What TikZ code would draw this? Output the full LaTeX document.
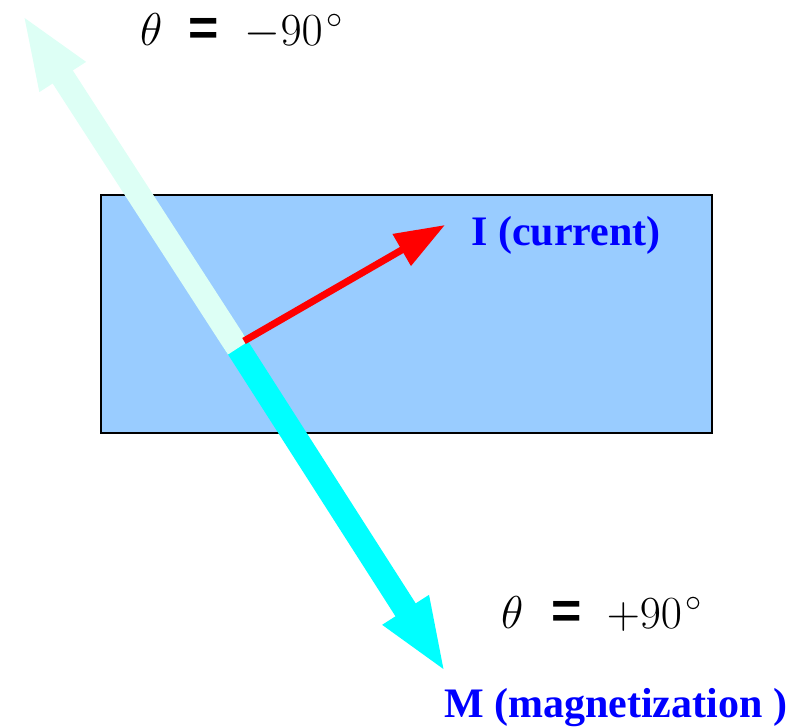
\RequirePackage{fix-cm}
\documentclass[tikz,border=0pt]{standalone}
\usepackage{fontspec}
\newfontfamily\lserif{Liberation Serif}
\newfontfamily\lsans{Liberation Sans}
\usetikzlibrary{arrows.meta}
\definecolor{plate}{RGB}{153,204,255}
\definecolor{paleM}{RGB}{221,255,245}
\definecolor{cyanM}{RGB}{0,255,255}
\definecolor{redI}{RGB}{255,0,0}
\definecolor{blueT}{RGB}{0,0,255}
\newcommand{\bigeq}{{\lsans\bfseries\fontsize{52}{60}\selectfont =}}
\tikzset{
  platebox/.style={fill=plate,draw=black,line width=1.5pt},
  bigarrow/.style={line width=24pt,-{Triangle[length=75pt,width=49pt]}},
  curarrow/.style={draw=redI,line width=7pt,-{Triangle[length=50pt,width=35pt]}},
  anglelabel/.style={anchor=base west,inner sep=0pt,font=\fontsize{46}{54}\selectfont},
  vlabel/.style={anchor=base west,inner sep=0pt,text=blueT,font=\lserif\bfseries\fontsize{42}{50}\selectfont},
}
\begin{document}
\begin{tikzpicture}[x=1pt,y=-1pt]
\useasboundingbox (0,0) rectangle (798,726);
\node[platebox,minimum width=611pt,minimum height=238pt,inner sep=0pt,anchor=north west] (plate) at (100,194) {};
\coordinate (base) at (238,348);
\coordinate (base2) at (233,340);
\coordinate (tipUp) at (22,14);
\coordinate (tipDown) at (446,673);
\coordinate (startI) at (244,341);
\coordinate (tipI) at (445,225);
\draw[bigarrow,draw=cyanM,color=cyanM] (base2) -- (tipDown);
\draw[bigarrow,draw=paleM,color=paleM] (base) -- (tipUp);
\draw[curarrow,color=redI] (startI) -- (tipI);
\node[anglelabel] (thUp) at (140,45) {$\theta$\hspace{26pt}\bigeq\hspace{26pt}$-90^{\mkern2mu\circ}$};
\node[anglelabel] (thDown) at (501,628) {$\theta$\hspace{28pt}\bigeq\hspace{25pt}$+90^{\mkern2mu\circ}$};
\node[vlabel] (lblI) at (471,245) {I (current)};
\node[vlabel] (lblM) at (444,717) {M (magnetization )};
\end{tikzpicture}
\end{document}
